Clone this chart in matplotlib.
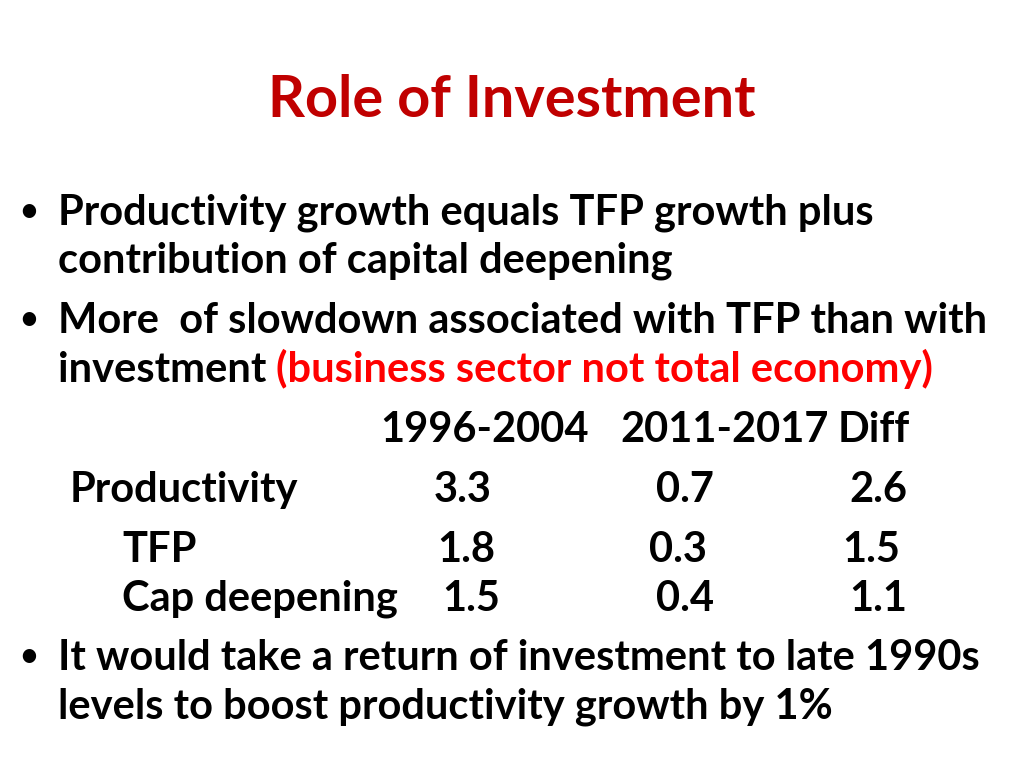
import matplotlib
matplotlib.use("Agg")
import matplotlib.pyplot as plt

title = "Role of Investment"
periods = ["1996-2004", "2011-2017", "Diff"]
row_labels = ["Productivity", "TFP", "Cap deepening"]
v_1996_2004 = [3.3, 1.8, 1.5]
v_2011_2017 = [0.7, 0.3, 0.4]
v_diff = [2.6, 1.5, 1.1]

W, H = 1024, 768
fig = plt.figure(figsize=(10.24, 7.68), dpi=100)
FONT = "Lato"
FS = 30
RED = "#C00000"
BRED = "#FF0000"

def t(x, y, s, ha="left", color="black", size=FS, weight="bold"):
    return fig.text(x / W, 1 - y / H, s, ha=ha, va="baseline", fontsize=size,
                    fontfamily=FONT, fontweight=weight, color=color)

t(512, 117, title, ha="center", color=RED, size=41.5)

bullets = [(225, "Productivity growth equals TFP growth plus"),
           (333, "More  of slowdown associated with TFP than with"),
           (670, "It would take a return of investment to late 1990s")]
for y, s in bullets:
    t(18, y - 3, "•", size=26, weight="normal")
    t(58, y, s)
t(58, 273, "contribution of capital deepening")
txt = t(58, 382, "investment ")
fig.canvas.draw()
bb = txt.get_window_extent()
t(bb.x1, 382, "(business sector not total economy)", color=BRED)
t(58, 719, "levels to boost productivity growth by 1%")

# table
hx = [380, 620, 838]
for x, p in zip(hx, periods):
    t(x, 442, p)
rows_y = [502, 562, 611]
label_x = [70, 122, 122]
cols = [(v_1996_2004, [463, 466, 471]),
        (v_2011_2017, [685, 678, 685]),
        (v_diff, [878, 871, 878])]
for i, (lab, y) in enumerate(zip(row_labels, rows_y)):
    t(label_x[i], y, lab)
    for vals, xs in cols:
        t(xs[i], y, f"{vals[i]:.1f}", ha="center")

fig.savefig("out.png", dpi=100, facecolor="white")
